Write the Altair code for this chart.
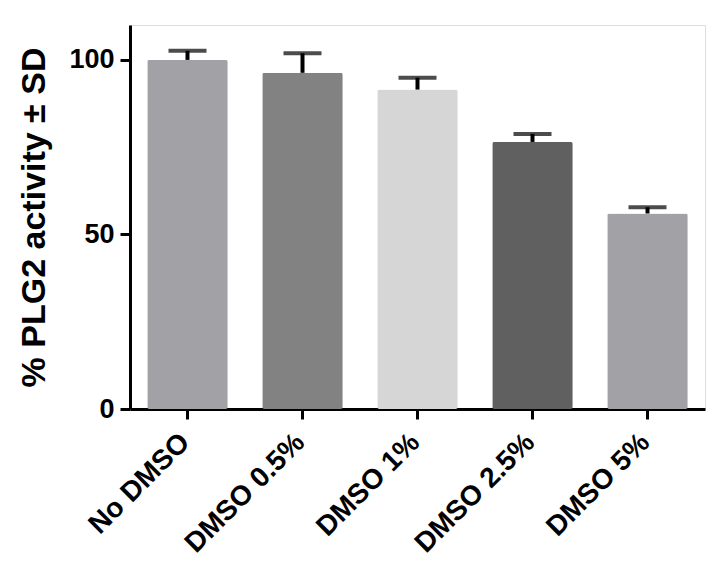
import altair as alt
import pandas as pd

categories = ["No DMSO", "DMSO 0.5%", "DMSO 1%", "DMSO 2.5%", "DMSO 5%"]
values = [100.0, 96.3, 91.5, 76.5, 56.0]
upper = [102.6, 101.9, 94.9, 78.8, 57.8]
colors = ["#a2a1a6", "#828282", "#d6d6d6", "#606060", "#a2a1a6"]
y_ticks = [0, 50, 100]

df = pd.DataFrame({"cat": categories, "val": values, "up": upper, "col": colors})

FONT = "Liberation Sans"

x = alt.X("cat:N", sort=categories, title=None,
          scale=alt.Scale(paddingInner=0.3, paddingOuter=0.15),
          axis=alt.Axis(labelAngle=-45, labelFont=FONT, labelFontSize=28,
                        labelFontWeight="bold", labelColor="black",
                        domainColor="black", domainWidth=3, tickColor="black",
                        tickWidth=3, tickSize=10, labelPadding=9, labelOffset=-12))
y = alt.Y("val:Q", title="% PLG2 activity ± SD",
          scale=alt.Scale(domain=[0, 110], nice=False),
          axis=alt.Axis(values=y_ticks, labelFont=FONT, labelFontSize=27,
                        labelFontWeight="bold", labelColor="black",
                        titleFont=FONT, titleFontSize=34, titleFontWeight="bold",
                        titleColor="black", titlePadding=17,
                        domainColor="black", domainWidth=3, tickColor="black",
                        tickWidth=3, tickSize=10, labelPadding=6, grid=False))

bars = alt.Chart(df).mark_bar(cornerRadius=2).encode(
    x=x, y=y, color=alt.Color("col:N", scale=None))

stem = alt.Chart(df).mark_rule(color="black", strokeWidth=4).encode(
    x=alt.X("cat:N", sort=categories), y="val:Q", y2="up:Q")

cap = alt.Chart(df).mark_tick(color="black", thickness=4, size=38).encode(
    x=alt.X("cat:N", sort=categories), y="up:Q")

chart = alt.layer(bars, stem, cap).properties(
    width=575, height=384,
    autosize=alt.AutoSizeParams(type="none"),
    padding={"left": 122, "top": 17, "right": 10, "bottom": 150},
).configure_view(stroke=None).configure(background="white")

chart.save("out.html", embed_options={"renderer": "svg", "actions": False})
